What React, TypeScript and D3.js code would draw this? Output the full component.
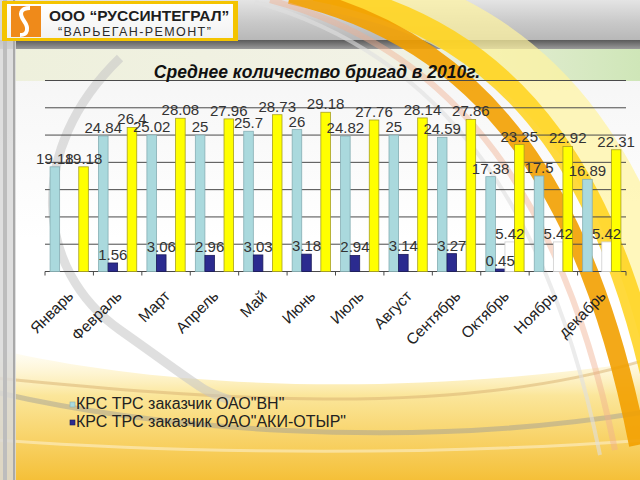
import React from 'react';
import * as d3 from 'd3';

const months = ['Январь', 'Февраль', 'Март', 'Апрель', 'Май', 'Июнь', 'Июль', 'Август', 'Сентябрь', 'Октябрь', 'Ноябрь', 'декабрь'];
const vnValues: (number | null)[] = [19.18, 24.84, 25.02, 25, 25.7, 26, 24.82, 25, 24.59, 17.38, 17.5, 16.89];
const akiValues: (number | null)[] = [null, 1.56, 3.06, 2.96, 3.03, 3.18, 2.94, 3.14, 3.27, 0.45, null, null];
const otherValues: (number | null)[] = [null, null, null, null, null, null, null, null, null, 5.42, 5.42, 5.42];
const totalValues: (number | null)[] = [19.18, 26.4, 28.08, 27.96, 28.73, 29.18, 27.76, 28.14, 27.86, 23.25, 22.92, 22.31];
const yTicks = [0, 5, 10, 15, 20, 25, 30, 35];
const legendLabels = ['КРС ТРС заказчик ОАО"ВН"', 'КРС ТРС заказчик ОАО"АКИ-ОТЫР"'];
const titleText = 'Среднее количество бригад в 2010г.';
const companyLine1 = 'ООО “РУССИНТЕГРАЛ”';
const companyLine2 = '“ВАРЬЕГАН-РЕМОНТ”';

const series = [
  { key: 'vn', values: vnValues, fill: '#aad9dd', stroke: '#86aeb4' },
  { key: 'aki', values: akiValues, fill: '#2b2b8f', stroke: '#1a1a5a' },
  { key: 'other', values: otherValues, fill: '#ffffff', stroke: '#cfcfcf' },
  { key: 'total', values: totalValues, fill: '#ffff00', stroke: '#a8a020' },
];

const W = 640;
const H = 480;
const plot = { left: 45, right: 626, top: 80.5, bottom: 271.5 };
const FONT = '"Liberation Sans", Arial, sans-serif';

export default function App() {
  const x0 = d3.scaleBand<string>().domain(months).range([plot.left, plot.right]).padding(0);
  const bw = x0.bandwidth();
  const x1 = d3
    .scaleBand<string>()
    .domain(series.map((s) => s.key))
    .range([bw * 0.105, bw * 0.895])
    .padding(0);
  const y = d3.scaleLinear().domain([0, 35]).range([plot.bottom, plot.top]);

  return (
    <svg width={W} height={H} style={{ position: 'fixed', left: 0, top: 0, display: 'block' }} fontFamily={FONT}>
      <defs>
        <linearGradient id="bg" x1="0" y1="0" x2="0" y2="1">
          <stop offset="0" stopColor="#f2f2f2" />
          <stop offset="0.5" stopColor="#ffffff" />
          <stop offset="1" stopColor="#ffffff" />
        </linearGradient>
        <linearGradient id="topband" x1="0" y1="0" x2="0" y2="1">
          <stop offset="0" stopColor="#e4e4e4" />
          <stop offset="0.5" stopColor="#c9c9c9" />
          <stop offset="1" stopColor="#b4b4b4" />
        </linearGradient>
        <linearGradient id="darkband" x1="0" y1="0" x2="0" y2="1">
          <stop offset="0" stopColor="#5a5a5a" />
          <stop offset="1" stopColor="#9a9a9a" />
        </linearGradient>
        <linearGradient id="strip" x1="0" y1="0" x2="1" y2="0">
          <stop offset="0" stopColor="#eef0dc" />
          <stop offset="0.6" stopColor="#f2f2e6" />
          <stop offset="1" stopColor="#cfe6b8" />
        </linearGradient>
        <linearGradient id="bottom" x1="0" y1="0" x2="0" y2="1">
          <stop offset="0" stopColor="#fff6d0" stopOpacity="0.2" />
          <stop offset="0.35" stopColor="#fbe69a" />
          <stop offset="1" stopColor="#f5c038" />
        </linearGradient>
        <linearGradient id="hdr" x1="0" y1="0" x2="0" y2="1">
          <stop offset="0" stopColor="#ffffff" />
          <stop offset="1" stopColor="#f2f2f2" />
        </linearGradient>
      </defs>

      {/* background */}
      <rect x={0} y={0} width={W} height={H} fill="url(#bg)" />
      <rect x={0} y={0} width={W} height={44} fill="url(#topband)" />
      <rect x={0} y={40} width={W} height={9} fill="url(#darkband)" />
      <rect x={15} y={49} width={W - 15} height={32} fill="url(#strip)" />
      <path d="M0,350 C150,385 380,400 640,362 L640,480 L0,480 Z" fill="url(#bottom)" />
      <path d="M-5,392 C150,428 400,452 645,412" fill="none" stroke="#9a9a9a" strokeWidth={5} opacity={0.45} />
      <path d="M-5,378 C200,398 450,420 645,360" fill="none" stroke="#d8b070" strokeWidth={3} opacity={0.5} />
      <path d="M-5,440 C200,455 450,455 645,440" fill="none" stroke="#ffffff" strokeWidth={3} opacity={0.4} />
      <path d="M120,58 C25,150 35,270 120,330 S200,390 230,400" fill="none" stroke="#c4c4c4" strokeWidth={9} opacity={0.55} />
      {/* swooshes */}
      <path d="M335,-15 C550,25 645,180 690,440" fill="none" stroke="#fff3a0" strokeWidth={55} opacity={0.7} />
      <path d="M315,-10 C525,30 620,190 666,445" fill="none" stroke="#ffd21a" strokeWidth={22} opacity={0.85} />
      <path d="M290,-5 C490,40 590,200 638,445" fill="none" stroke="#f2a000" strokeWidth={18} opacity={0.9} />
      <path d="M270,0 C460,50 565,205 615,450" fill="none" stroke="#f0b090" strokeWidth={6} opacity={0.45} />
      <path d="M255,2 C445,55 550,210 600,455" fill="none" stroke="#e0e0e0" strokeWidth={4} opacity={0.6} />
      {/* left strip */}
      <rect x={0} y={0} width={16} height={H} fill="#d9d9d9" opacity={0.85} />
      <rect x={3} y={0} width={4} height={H} fill="#bdbdbd" />
      <rect x={13} y={0} width={2} height={H} fill="#a9a9a9" />

      {/* header box */}
      <rect x={2} y={1} width={236} height={40} fill="#f4c400" />
      <rect x={7} y={4} width={226} height={34} fill="url(#hdr)" />
      <rect x={11} y={6} width={30} height={31} fill="#ef8a1a" />
      <path d="M30,8 C20,8 19,14 24,21 C29,28 28,35 20,35" fill="none" stroke="#ffffff" strokeWidth={4} />
      <text x={49} y={21} fontSize={15.5} fontWeight="bold" fill="#1e1e1e">{companyLine1}</text>
      <text x={58} y={35.5} fontSize={12.5} fill="#2a2a2a" letterSpacing={1.4}>{companyLine2}</text>

      {/* gridlines */}
      {yTicks.map((t) => (
        <line key={t} x1={plot.left} x2={plot.right} y1={y(t)} y2={y(t)} stroke="#4a4a4a" strokeWidth={1} />
      ))}
      {/* category ticks */}
      {d3.range(months.length + 1).map((i) => {
        const xx = plot.left + i * bw;
        return <line key={i} x1={xx} x2={xx} y1={plot.bottom} y2={plot.bottom + 4} stroke="#4a4a4a" strokeWidth={1} />;
      })}

      {/* title */}
      <text x={317} y={78} textAnchor="middle" fontSize={17.5} fontWeight="bold" fontStyle="italic" fill="#111">
        {titleText}
      </text>

      {/* bars */}
      {series.map((s) => (
        <g key={s.key}>
          {months.map((m, i) => {
            const v = s.values[i];
            if (v == null) return null;
            const bx = (x0(m) as number) + (x1(s.key) as number);
            return (
              <rect key={m} x={bx} y={y(v)} width={x1.bandwidth()} height={plot.bottom - y(v)} fill={s.fill} stroke={s.stroke} strokeWidth={0.8} />
            );
          })}
        </g>
      ))}
      {/* data labels */}
      {series.map((s) => (
        <g key={s.key + 'l'}>
          {months.map((m, i) => {
            const v = s.values[i];
            if (v == null) return null;
            const cx = (x0(m) as number) + (x1(s.key) as number) + x1.bandwidth() / 2;
            return (
              <text key={m} x={cx} y={y(v) - 3} textAnchor="middle" fontSize={15} fill="#333">
                {String(v)}
              </text>
            );
          })}
        </g>
      ))}

      {/* x labels */}
      {months.map((m) => {
        const cx = (x0(m) as number) + bw / 2 + 5;
        const cy = 297;
        return (
          <text key={m} x={cx} y={cy} textAnchor="end" fontSize={15.5} fill="#222" transform={`rotate(-45,${cx},${cy})`}>
            {m}
          </text>
        );
      })}

      {/* legend */}
      {legendLabels.map((lab, i) => (
        <g key={lab} transform={`translate(70,${409 + i * 18})`}>
          <rect x={0} y={-7} width={5} height={5} fill={series[i].fill} stroke={series[i].stroke} strokeWidth={0.6} />
          <text x={6} y={0} fontSize={16} fill="#222">{lab}</text>
        </g>
      ))}
    </svg>
  );
}
